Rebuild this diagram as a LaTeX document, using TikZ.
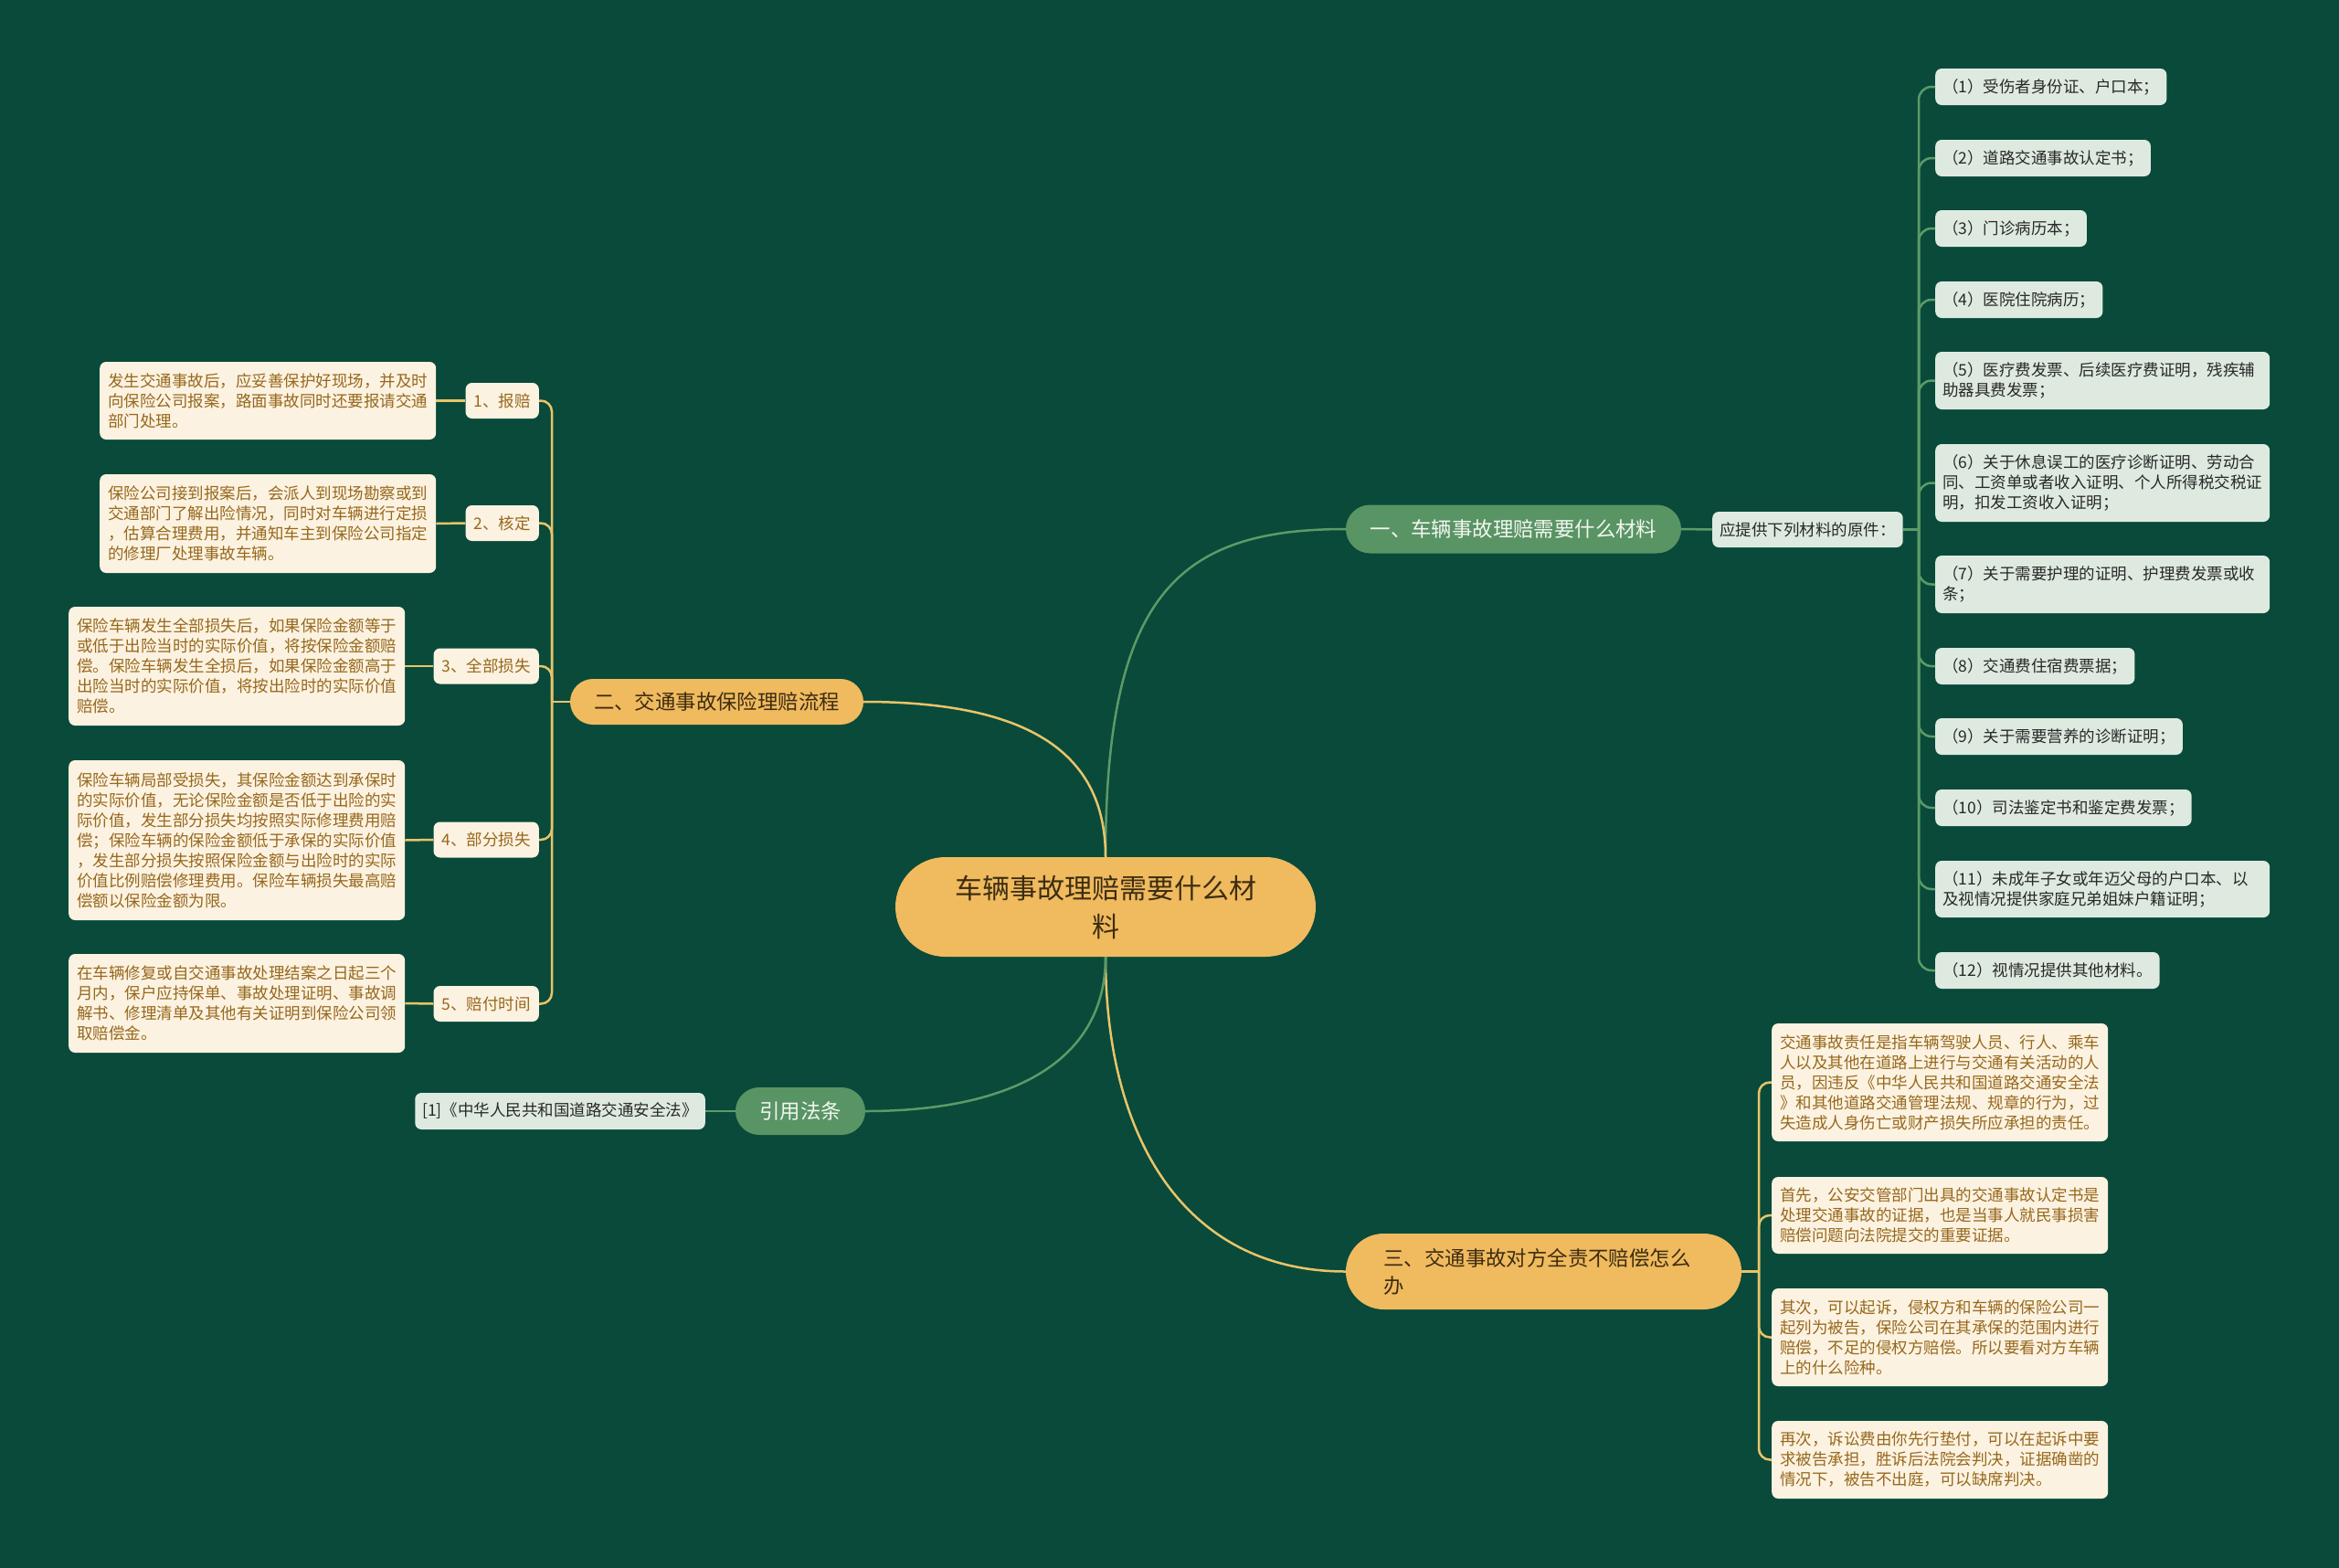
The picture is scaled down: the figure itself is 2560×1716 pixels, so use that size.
\documentclass[tikz,border=0pt]{standalone}
\usepackage{fontspec}
\setmainfont{Noto Sans CJK SC}
\usetikzlibrary{shapes.misc}
\definecolor{bg}{RGB}{9,74,58}
\definecolor{creamc}{RGB}{252,242,225}
\definecolor{creamtxt}{RGB}{150,104,28}
\definecolor{leafc}{RGB}{222,234,224}
\definecolor{leaftxt}{RGB}{40,40,40}
\definecolor{pillg}{RGB}{89,148,100}
\definecolor{pilltxt}{RGB}{242,246,240}
\definecolor{pillo}{RGB}{240,186,95}
\definecolor{darktxt}{RGB}{60,45,16}
\definecolor{lineg}{RGB}{92,155,104}
\definecolor{lineo}{RGB}{233,196,106}
\begin{document}
\begin{tikzpicture}[x=1pt,y=-1pt,
  cream/.style={rectangle, rounded corners=7, fill=creamc, text=creamtxt, font=\fontsize{17.5}{22}\selectfont, inner xsep=9, inner ysep=0, align=left},
  leaf/.style={rectangle, rounded corners=7, fill=leafc, text=leaftxt, font=\fontsize{17.5}{22}\selectfont, inner xsep=8, inner ysep=0, align=left, minimum height=40, anchor=west},
  gpill/.style={rounded rectangle, fill=pillg, text=pilltxt, font=\fontsize{22.4}{30}\selectfont, inner sep=0},
  opill/.style={rounded rectangle, fill=pillo, text=darktxt, font=\fontsize{22.4}{30}\selectfont, inner sep=0},
  gline/.style={draw=lineg, line width=2.5},
  oline/.style={draw=lineo, line width=2.5}
]
\fill[bg] (0,0) rectangle (2560,1716);
\useasboundingbox (0,0) rectangle (2560,1716);

% central topic
\node[opill, minimum width=460, minimum height=109, font=\fontsize{30}{42}\selectfont, align=center] (c) at (1210,992.5) {车辆事故理赔需要什么材\\料};

% branch 1
\node[gpill, minimum width=367, minimum height=53] (b1) at (1656.5,579) {一、车辆事故理赔需要什么材料};
\node[leaf, minimum height=39] (ask) at (1874,579.5) {应提供下列材料的原件：};
\node[leaf] (m1) at (2118,95) {（1）受伤者身份证、户口本；};
\node[leaf] (m2) at (2118,173) {（2）道路交通事故认定书；};
\node[leaf] (m3) at (2118,250) {（3）门诊病历本；};
\node[leaf] (m4) at (2118,328) {（4）医院住院病历；};
\node[leaf, text width=350, minimum height=63] (m5) at (2118,416.5) {（5）医疗费发票、后续医疗费证明，残疾辅\\助器具费发票；};
\node[leaf, text width=350, minimum height=85] (m6) at (2118,528.5) {（6）关于休息误工的医疗诊断证明、劳动合\\同、工资单或者收入证明、个人所得税交税证\\明，扣发工资收入证明；};
\node[leaf, text width=350, minimum height=63] (m7) at (2118,639.5) {（7）关于需要护理的证明、护理费发票或收\\条；};
\node[leaf] (m8) at (2118,729) {（8）交通费住宿费票据；};
\node[leaf] (m9) at (2118,806) {（9）关于需要营养的诊断证明；};
\node[leaf] (m10) at (2118,884) {（10）司法鉴定书和鉴定费发票；};
\node[leaf, text width=350, minimum height=62] (m11) at (2118,973) {（11）未成年子女或年迈父母的户口本、以\\及视情况提供家庭兄弟姐妹户籍证明；};
\node[leaf] (m12) at (2118,1062) {（12）视情况提供其他材料。};

\draw[gline] (c.north) .. controls (1210,650) and (1290,579) .. (b1.west);
\draw[gline] (b1.east) -- (ask.west);
\draw[gline] (ask.east) -- (2100,579.5);
\foreach \m in {m1,m2,m3,m4,m5,m6,m7,m8,m9,m10,m11,m12}
  \draw[gline, rounded corners=14] (2100,579.5) |- (\m.west);

% branch 2
\node[opill, minimum width=321, minimum height=50] (b2) at (784.5,768) {二、交通事故保险理赔流程};
\node[cream, anchor=east, minimum height=39] (s1) at (590,438.5) {1、报赔};
\node[cream, anchor=east, minimum height=39] (s2) at (590,572.5) {2、核定};
\node[cream, anchor=east, minimum height=39] (s3) at (590,729) {3、全部损失};
\node[cream, anchor=east, minimum height=39] (s4) at (590,919) {4、部分损失};
\node[cream, anchor=east, minimum height=39] (s5) at (590,1098.5) {5、赔付时间};
\node[cream, anchor=west, text width=350, minimum height=85] (d1) at (109,438.5) {发生交通事故后，应妥善保护好现场，并及时\\向保险公司报案，路面事故同时还要报请交通\\部门处理。};
\node[cream, anchor=west, text width=350, minimum height=108] (d2) at (109,573) {保险公司接到报案后，会派人到现场勘察或到\\交通部门了解出险情况，同时对车辆进行定损\\，估算合理费用，并通知车主到保险公司指定\\的修理厂处理事故车辆。};
\node[cream, anchor=west, text width=350, minimum height=130] (d3) at (75,729) {保险车辆发生全部损失后，如果保险金额等于\\或低于出险当时的实际价值，将按保险金额赔\\偿。保险车辆发生全损后，如果保险金额高于\\出险当时的实际价值，将按出险时的实际价值\\赔偿。};
\node[cream, anchor=west, text width=350, minimum height=175] (d4) at (75,919.5) {保险车辆局部受损失，其保险金额达到承保时\\的实际价值，无论保险金额是否低于出险的实\\际价值，发生部分损失均按照实际修理费用赔\\偿；保险车辆的保险金额低于承保的实际价值\\，发生部分损失按照保险金额与出险时的实际\\价值比例赔偿修理费用。保险车辆损失最高赔\\偿额以保险金额为限。};
\node[cream, anchor=west, text width=350, minimum height=108] (d5) at (75,1098) {在车辆修复或自交通事故处理结案之日起三个\\月内，保户应持保单、事故处理证明、事故调\\解书、修理清单及其他有关证明到保险公司领\\取赔偿金。};

\draw[oline] (c.north) .. controls (1210,820) and (1120,768) .. (b2.east);
\draw[oline] (b2.west) -- (604,768);
\foreach \s in {s1,s2,s3,s4,s5}
  \draw[oline, rounded corners=12] (604,768) |- (\s.east);
\draw[oline] (d1.east) -- (s1.west);
\draw[oline] (d2.east) -- (s2.west);
\draw[oline] (d3.east) -- (s3.west);
\draw[oline] (d4.east) -- (s4.west);
\draw[oline] (d5.east) -- (s5.west);

% branch 3
\node[opill, minimum width=433, minimum height=83, text width=350, align=left] (b3) at (1689.5,1391.5) {三、交通事故对方全责不赔偿怎么\\办};
\node[cream, anchor=west, text width=350, minimum height=129] (r1) at (1939,1184.5) {交通事故责任是指车辆驾驶人员、行人、乘车\\人以及其他在道路上进行与交通有关活动的人\\员，因违反《中华人民共和国道路交通安全法\\》和其他道路交通管理法规、规章的行为，过\\失造成人身伤亡或财产损失所应承担的责任。};
\node[cream, anchor=west, text width=350, minimum height=84] (r2) at (1939,1330) {首先，公安交管部门出具的交通事故认定书是\\处理交通事故的证据，也是当事人就民事损害\\赔偿问题向法院提交的重要证据。};
\node[cream, anchor=west, text width=350, minimum height=107] (r3) at (1939,1463.5) {其次，可以起诉，侵权方和车辆的保险公司一\\起列为被告，保险公司在其承保的范围内进行\\赔偿，不足的侵权方赔偿。所以要看对方车辆\\上的什么险种。};
\node[cream, anchor=west, text width=350, minimum height=85] (r4) at (1939,1597.5) {再次，诉讼费由你先行垫付，可以在起诉中要\\求被告承担，胜诉后法院会判决，证据确凿的\\情况下，被告不出庭，可以缺席判决。};

\draw[oline] (c.south) .. controls (1210,1250) and (1300,1391.5) .. (b3.west);
\draw[oline] (b3.east) -- (1925,1391.5);
\foreach \r in {r1,r2,r3,r4}
  \draw[oline, rounded corners=12] (1925,1391.5) |- (\r.west);

% branch 4
\node[gpill, minimum width=142, minimum height=52] (b4) at (876,1216) {引用法条};
\node[leaf, anchor=east] (cite) at (772,1216) {[1]《中华人民共和国道路交通安全法》};
\draw[gline] (c.south) .. controls (1210,1160) and (1110,1216) .. (b4.east);
\draw[gline] (b4.west) -- (cite.east);
\end{tikzpicture}
\end{document}
